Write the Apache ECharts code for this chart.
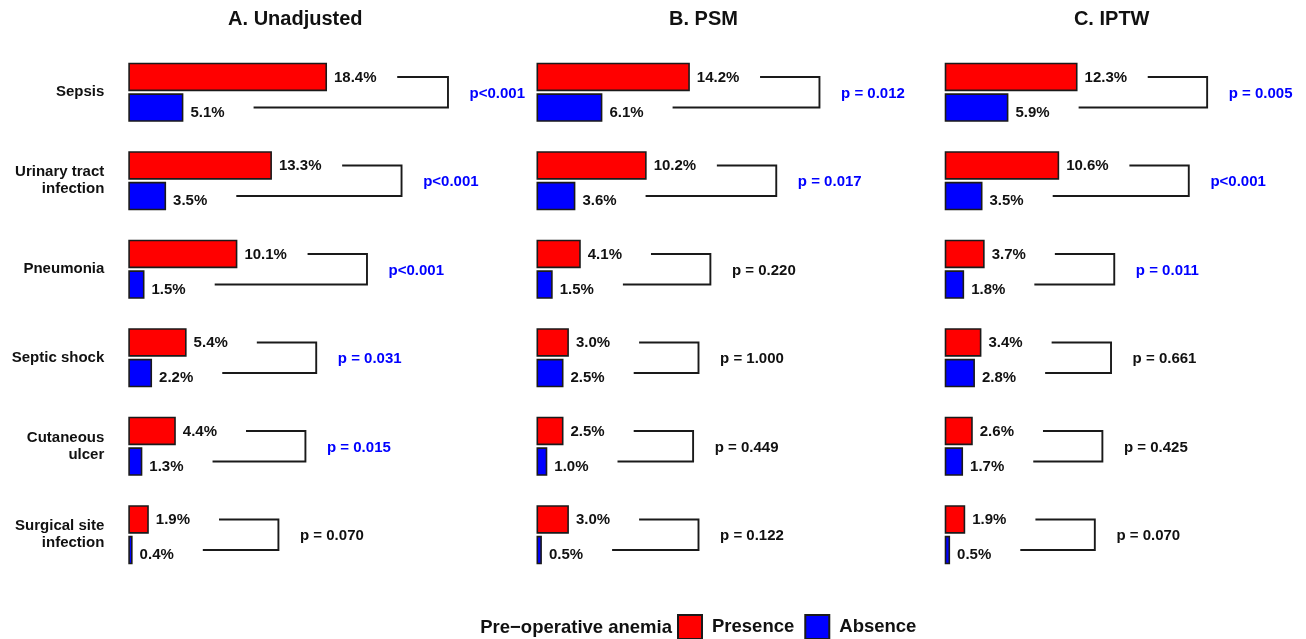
<!DOCTYPE html>
<html>
<head>
<meta charset="utf-8">
<script src="https://cdn.jsdelivr.net/npm/echarts@6/dist/echarts.min.js"></script>
<style>
html,body{margin:0;padding:0;background:#fff;}
#chart{width:1306px;height:639px;}
</style>
</head>
<body>
<div id="chart"></div>
<script>
const categories = ['Sepsis', 'Urinary tract\ninfection', 'Pneumonia', 'Septic shock', 'Cutaneous\nulcer', 'Surgical site\ninfection'];
const panelTitles = ['A. Unadjusted', 'B. PSM', 'C. IPTW'];

const presenceA = [18.4, 13.3, 10.1, 5.4, 4.4, 1.9];
const absenceA  = [5.1, 3.5, 1.5, 2.2, 1.3, 0.4];
const pA = ['p<0.001', 'p<0.001', 'p<0.001', 'p = 0.031', 'p = 0.015', 'p = 0.070'];

const presenceB = [14.2, 10.2, 4.1, 3.0, 2.5, 3.0];
const absenceB  = [6.1, 3.6, 1.5, 2.5, 1.0, 0.5];
const pB = ['p = 0.012', 'p = 0.017', 'p = 0.220', 'p = 1.000', 'p = 0.449', 'p = 0.122'];

const presenceC = [12.3, 10.6, 3.7, 3.4, 2.6, 1.9];
const absenceC  = [5.9, 3.5, 1.8, 2.8, 1.7, 0.5];
const pC = ['p = 0.005', 'p<0.001', 'p = 0.011', 'p = 0.661', 'p = 0.425', 'p = 0.070'];

const legendTitle = 'Pre\u2212operative anemia';
const seriesNames = ['Presence', 'Absence'];

const panels = [
  {title: panelTitles[0], pres: presenceA, abs: absenceA, p: pA},
  {title: panelTitles[1], pres: presenceB, abs: absenceB, p: pB},
  {title: panelTitles[2], pres: presenceC, abs: absenceC, p: pC}
];

const FONT = '"Liberation Sans", Arial, Helvetica, sans-serif';
const TXT = '#111';
const RED = '#FF0000', BLUE = '#0000FF';
const BAR_W = 28.5, BAR_GAP = 0.074;
const HALF = BAR_W * (1 + BAR_GAP) / 2;
const GRID_LEFT0 = 128.3, GRID_STEP = 408.2, GRID_W = 324, GRID_TOP = 48, GRID_H = 531;

function pValue(s) { return parseFloat(s.replace(/[^0-9.]/g, '')); }
function pColor(s) { return (s.indexOf('<') >= 0 || pValue(s) < 0.05) ? BLUE : TXT; }

const grids = [], xAxes = [], yAxes = [], series = [], titles = [];
panels.forEach((pn, i) => {
  const left = GRID_LEFT0 + GRID_STEP * i;
  grids.push({left: left, top: GRID_TOP, width: GRID_W, height: GRID_H});
  titles.push({
    text: pn.title, left: left + GRID_W / 2, top: 4, textAlign: 'center',
    textStyle: {fontFamily: FONT, fontWeight: 'bold', fontSize: 20, color: TXT}
  });
  xAxes.push({gridIndex: i, type: 'value', min: 0, max: 30, show: false});
  yAxes.push({
    gridIndex: i, type: 'category', data: categories, inverse: true,
    axisLine: {show: false}, axisTick: {show: false}, splitLine: {show: false},
    axisLabel: {
      show: i === 0, margin: 24, fontFamily: FONT, fontWeight: 'bold', fontSize: 15,
      lineHeight: 17, color: TXT, align: 'right', padding: [4, 0, 0, 0]
    }
  });
  const common = {
    type: 'bar', xAxisIndex: i, yAxisIndex: i, barWidth: BAR_W, barGap: (BAR_GAP * 100) + '%',
    label: {
      show: true, position: 'right', distance: 7, fontFamily: FONT, fontWeight: 'bold',
      fontSize: 15, color: TXT, formatter: (p) => p.value.toFixed(1) + '%'
    }
  };
  series.push(Object.assign({}, common, {
    name: seriesNames[0], data: pn.pres,
    itemStyle: {color: RED, borderColor: '#1a1a1a', borderWidth: 1.6},
    label: Object.assign({}, common.label, {offset: [0, 0.5]})
  }));
  series.push(Object.assign({}, common, {
    name: seriesNames[1], data: pn.abs,
    itemStyle: {color: BLUE, borderColor: '#1a1a1a', borderWidth: 1.6},
    label: Object.assign({}, common.label, {offset: [0, 5]})
  }));
  const bdata = categories.map((c, k) => [k, pn.pres[k], pn.abs[k], k]);
  series.push({
    type: 'custom', xAxisIndex: i, yAxisIndex: i, clip: false, silent: true,
    encode: {y: 0, x: [1, 2]},
    data: bdata,
    renderItem: function (params, api) {
      const k = api.value(0), pres = api.value(1), abs = api.value(2);
      const bx = Math.min(Math.max(pres, abs) + 12, 29.6);
      const yc = api.coord([0, k])[1];
      const yR = yc - HALF, yB = yc + HALF;
      const xR = api.coord([pres + 6.5, k])[0];
      const xB = api.coord([abs + 6.5, k])[0];
      const xV = api.coord([bx, k])[0];
      const xT = api.coord([bx + 2, k])[0];
      const label = pn.p[k];
      return {
        type: 'group',
        children: [
          {type: 'polyline', shape: {points: [[xR, yR], [xV, yR], [xV, yB], [xB, yB]]},
           style: {stroke: '#1a1a1a', lineWidth: 1.9, fill: null}},
          {type: 'text', x: xT, y: yc + 1.5,
           style: {text: label, fill: pColor(label), font: 'bold 15px ' + FONT,
                   align: 'left', verticalAlign: 'middle'}}
        ]
      };
    }
  });
});

const chart = echarts.init(document.getElementById('chart'));
chart.setOption({
  animation: false,
  backgroundColor: '#fff',
  title: titles,
  grid: grids,
  xAxis: xAxes,
  yAxis: yAxes,
  series: series,
  legend: {
    data: seriesNames, left: 677, top: 614, padding: 0, itemWidth: 24, itemHeight: 24, itemGap: 10,
    icon: 'rect', selectedMode: false,
    textStyle: {fontFamily: FONT, fontWeight: 'bold', fontSize: 18.5, color: TXT, padding: [0, 0, 0, 5]}
  },
  graphic: [{
    type: 'text', x: 672, y: 628,
    style: {text: legendTitle, font: 'bold 18.5px ' + FONT, fill: TXT, align: 'right', verticalAlign: 'middle'}
  }]
});
</script>
</body>
</html>
